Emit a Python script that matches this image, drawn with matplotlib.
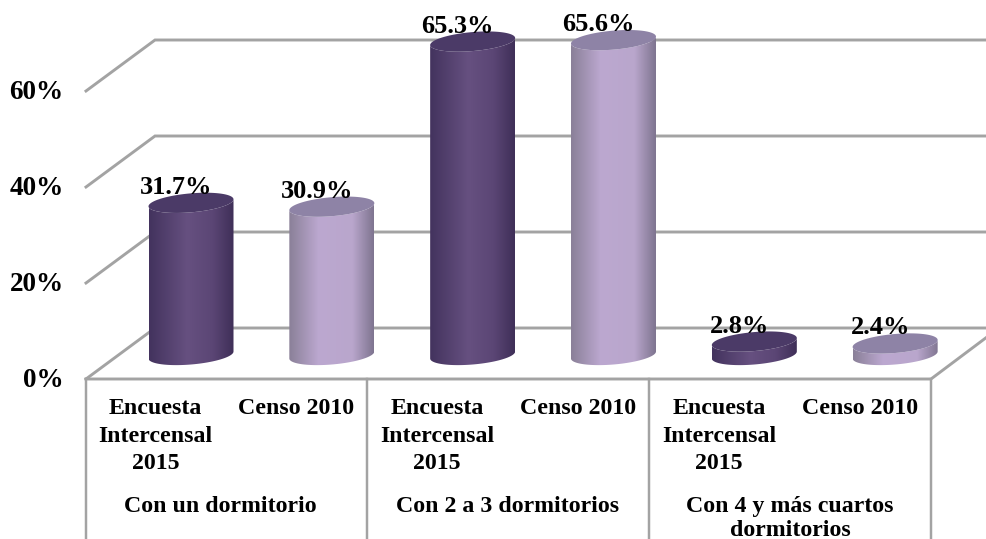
import numpy as np
import matplotlib
matplotlib.use("Agg")
import matplotlib.pyplot as plt
from matplotlib.colors import LinearSegmentedColormap
from matplotlib.patches import Polygon

# ---- data ----
groups = ["Con un dormitorio", "Con 2 a 3 dormitorios", "Con 4 y más cuartos\ndormitorios"]
series_names = ["Encuesta\nIntercensal\n2015", "Censo 2010"]
encuesta = [31.7, 65.3, 2.8]
censo = [30.9, 65.6, 2.4]
value_labels_enc = ["31.7%", "65.3%", "2.8%"]
value_labels_cen = ["30.9%", "65.6%", "2.4%"]
y_ticks = [0, 20, 40, 60]
y_tick_labels = ["0%", "20%", "40%", "60%"]

# ---- layout (pixel geometry of the 3D box) ----
W, H = 987, 539
X0, DX = 191.0, 140.83     # pixel of first bar, pixels per bar slot
Y0, DY = 355.0, 4.8        # pixel of floor centre, pixels per percent
def xp(px): return (px - X0) / DX
def yp(py): return (Y0 - py) / DY

GRAY = "#a3a3a3"
LW = 2.1
FONT = "Liberation Serif"
plt.rcParams["font.family"] = [FONT, "DejaVu Serif"]

fig = plt.figure(figsize=(W / 100, H / 100), dpi=100, facecolor="white")
ax = fig.add_axes([0, 0, 1, 1])
ax.axis("off")

FRONT_SHIFT = yp(379)      # front edge, value 0
BACK_SHIFT = yp(328)       # back wall, value 0
xf_left, xb_left, xf_right, x_end = xp(86), xp(155), xp(931), xp(987)

# walls and gridlines
for v in y_ticks:
    ax.plot([xf_left, xb_left, x_end],
            [v + FRONT_SHIFT, v + BACK_SHIFT, v + BACK_SHIFT],
            color=GRAY, lw=LW, solid_joinstyle="miter", zorder=1)
# front floor edge and right side
ax.plot([xf_left, xf_right, x_end],
        [FRONT_SHIFT, FRONT_SHIFT, yp(337)], color=GRAY, lw=LW, zorder=1)
# category dividers
for px in [86, 367, 649, 931]:
    ax.plot([xp(px), xp(px)], [FRONT_SHIFT, yp(H)], color=GRAY, lw=LW * 0.85, zorder=1)

cmap_dark = LinearSegmentedColormap.from_list("d", [(0, "#43335e"), (0.45, "#665080"), (0.75, "#5b4675"), (1, "#3f2f58")])
cmap_light = LinearSegmentedColormap.from_list("l", [(0, "#8a8098"), (0.35, "#bca8d0"), (0.75, "#b9a6cc"), (1, "#7f7590")])
TOP_DARK, TOP_LIGHT = "#4b3a67", "#8e83a6"
HALF_W, SEMI_B, TILT = 42.5, 9.5, 3.5   # cylinder shape, pixels

def ellipse(cx, v, t):
    return (cx + HALF_W / DX * np.cos(t),
            v + (SEMI_B * np.sin(t) + TILT * np.cos(t)) / DY)

def cylinder(cx, value, cmap, top_color):
    t = np.linspace(np.pi, 2 * np.pi, 80)
    bx, by = ellipse(cx, 0, t)
    tx, ty = ellipse(cx, value, t[::-1])
    body = Polygon(np.column_stack([np.r_[bx, tx], np.r_[by, ty]]),
                   closed=True, transform=ax.transData, fc="none", ec="none")
    ax.add_patch(body)
    grad = np.linspace(0, 1, 128).reshape(1, -1)
    im = ax.imshow(grad, cmap=cmap, aspect="auto", zorder=3, interpolation="bilinear",
                   extent=[cx - HALF_W / DX, cx + HALF_W / DX, -3, value + 4])
    im.set_clip_path(body)
    t2 = np.linspace(0, 2 * np.pi, 160)
    ex, ey = ellipse(cx, value, t2)
    ax.fill(ex, ey, color=top_color, lw=0, zorder=4)

positions = []
for g in range(len(groups)):
    a, b = 2 * g, 2 * g + 1
    positions += [a, b]
    cylinder(a, encuesta[g], cmap_dark, TOP_DARK)
    cylinder(b, censo[g], cmap_light, TOP_LIGHT)
    for pos, val, lab in [(a, encuesta[g], value_labels_enc[g]), (b, censo[g], value_labels_cen[g])]:
        ax.annotate(lab, (pos, val), xytext=(-15 * 0.72, 9 * 0.72), textcoords="offset points",
                    ha="center", va="baseline", fontsize=19, fontweight="bold", zorder=6)

# y tick labels
for v, lab in zip(y_ticks, y_tick_labels):
    ax.annotate(lab, (xf_left, v + FRONT_SHIFT), xytext=(-22.5 * 0.72, -8 * 0.72),
                textcoords="offset points", ha="right", va="baseline",
                fontsize=19.5, fontweight="bold", zorder=6)

# category labels
LINE_STEP = 27.5
for pos in positions:
    name = series_names[pos % 2]
    for k, line in enumerate(name.split("\n")):
        ax.text(xp(X0 + pos * DX - 35.5), yp(414 + k * LINE_STEP), line, ha="center",
                va="baseline", fontsize=17.2, fontweight="bold", zorder=6)

group_px = [220.5, 508, 790]
for g, cx in zip(groups, group_px):
    for k, line in enumerate(g.split("\n")):
        ax.text(xp(cx), yp(512 + k * 24.5), line, ha="center", va="baseline",
                fontsize=17.2, fontweight="bold", zorder=6)

ax.set_xlim(xp(0), xp(W))
ax.set_ylim(yp(H), yp(0))
fig.savefig("out.png", dpi=100, facecolor="white")
